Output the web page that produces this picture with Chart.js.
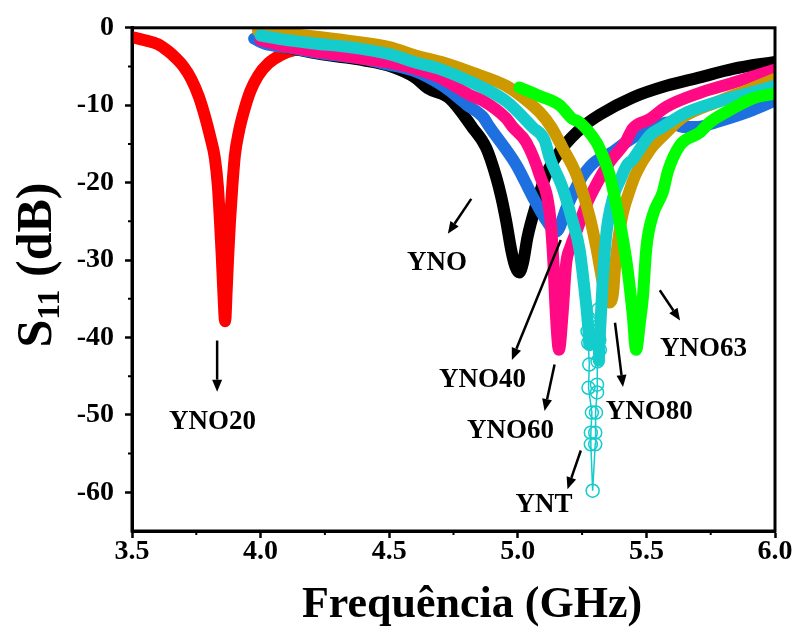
<!DOCTYPE html>
<html>
<head>
<meta charset="utf-8">
<script src="https://cdn.jsdelivr.net/npm/chart.js@4.4.0/dist/chart.umd.min.js"></script>
<style>
  body { margin: 0; background: #fff; }
  canvas { display: block; }
</style>
</head>
<body>
<canvas id="s11Chart" width="797" height="630"></canvas>
<script>
/*global Chart*/
var serif = "'Liberation Serif', 'Times New Roman', serif";

// S11 curves (frequency in GHz, S11 in dB)
var yno20Freq = [3.50, 3.55, 3.60, 3.64, 3.67, 3.70, 3.73, 3.76, 3.785, 3.805, 3.822, 3.834, 3.842, 3.849, 3.855, 3.862, 3.868, 3.874, 3.881, 3.89, 3.90, 3.915, 3.935, 3.96, 3.99, 4.03, 4.08, 4.13, 4.20];
var yno20S11 = [-1.2, -1.6, -2.1, -3.0, -3.9, -5.0, -6.6, -8.9, -11.6, -14.2, -16.8, -20.5, -25.0, -29.5, -34.0, -37.9, -34.0, -29.5, -25.0, -20.5, -16.5, -13.5, -10.8, -8.2, -6.2, -4.6, -3.5, -2.9, -2.6];

var ynoFreq = [4.00, 4.10, 4.20, 4.30, 4.40, 4.50, 4.60, 4.65, 4.734, 4.824, 4.877, 4.916, 4.936, 4.955, 4.975, 4.99, 5.005, 5.02, 5.038, 5.072, 5.111, 5.174, 5.252, 5.32, 5.447, 5.578, 5.708, 5.837, 6.00];
var ynoS11 = [-1.7, -2.5, -3.2, -3.7, -4.2, -4.9, -6.4, -7.8, -9.1, -12.9, -15.5, -19.3, -21.9, -25.0, -28.8, -30.8, -31.6, -30.4, -27.0, -22.8, -18.9, -15.5, -12.8, -11.2, -9.0, -7.5, -6.4, -5.3, -4.4];

var yno40Freq = [3.975, 4.02, 4.10, 4.215, 4.30, 4.40, 4.475, 4.60, 4.70, 4.734, 4.80, 4.864, 4.89, 4.994, 5.059, 5.111, 5.15, 5.19, 5.24, 5.29, 5.37, 5.42, 5.51, 5.59, 5.64, 5.70, 5.77, 5.90, 6.00];
var yno40S11 = [-1.4, -2.1, -2.5, -3.2, -3.6, -4.0, -4.6, -5.6, -7.3, -8.1, -9.9, -11.5, -12.8, -17.7, -21.9, -24.9, -26.3, -23.2, -19.8, -17.6, -16.0, -14.8, -13.0, -12.2, -12.8, -12.8, -12.2, -10.8, -9.4];

var yno60Freq = [4.00, 4.10, 4.20, 4.30, 4.40, 4.50, 4.58, 4.695, 4.734, 4.82, 4.864, 4.955, 4.98, 5.033, 5.085, 5.125, 5.138, 5.148, 5.16, 5.174, 5.188, 5.205, 5.228, 5.267, 5.306, 5.358, 5.42, 5.447, 5.513, 5.578, 5.708, 5.837, 6.00];
var yno60S11 = [-1.6, -2.4, -3.0, -3.5, -4.0, -4.5, -5.1, -6.4, -7.1, -8.8, -9.4, -11.7, -12.8, -14.8, -19.0, -24.2, -30.0, -37.0, -41.6, -37.0, -30.5, -28.3, -26.3, -22.8, -20.2, -17.3, -14.7, -13.0, -11.8, -10.2, -8.4, -7.1, -5.4];

var yno80Freq = [3.99, 4.085, 4.20, 4.345, 4.50, 4.605, 4.70, 4.824, 4.955, 5.02, 5.085, 5.13, 5.174, 5.228, 5.28, 5.306, 5.325, 5.34, 5.355, 5.37, 5.378, 5.39, 5.408, 5.435, 5.46, 5.513, 5.578, 5.64, 5.773, 5.903, 6.00];
var yno80S11 = [-0.4, -0.7, -1.1, -1.7, -2.5, -3.6, -4.4, -5.8, -7.5, -9.0, -10.9, -12.8, -15.5, -19.0, -24.5, -28.5, -32.0, -34.6, -35.5, -34.3, -31.0, -27.5, -24.0, -21.0, -18.8, -15.8, -13.5, -11.6, -9.6, -7.9, -6.6];

var yno63Freq = [5.007, 5.085, 5.163, 5.21, 5.24, 5.306, 5.318, 5.357, 5.383, 5.408, 5.428, 5.447, 5.46, 5.475, 5.486, 5.50, 5.525, 5.564, 5.584, 5.63, 5.708, 5.747, 5.837, 5.915, 6.00];
var yno63S11 = [-7.7, -8.8, -10.0, -11.7, -12.2, -14.8, -15.6, -19.0, -22.9, -27.2, -31.5, -37.1, -41.6, -38.0, -34.9, -28.4, -24.2, -21.2, -18.5, -15.2, -13.5, -12.2, -10.4, -9.1, -8.5];

// YNT: falling branch, sparse points at the resonance, rising branch
var yntFreq = [4.00, 4.085, 4.20, 4.345, 4.50, 4.605, 4.695, 4.824, 4.955, 5.059, 5.104, 5.124, 5.17, 5.213, 5.24, 5.26, 5.272, 5.278];
var yntS11 = [-1.0, -1.5, -2.0, -2.5, -3.4, -4.5, -5.3, -7.1, -9.5, -12.9, -14.5, -16.8, -20.3, -25.0, -28.6, -34.0, -38.0, -41.0];
var yntTipFreq = [5.278, 5.271, 5.274, 5.278, 5.275, 5.288, 5.284, 5.284, 5.291, 5.301, 5.301, 5.304, 5.308, 5.308, 5.310, 5.319, 5.317, 5.310, 5.313];
var yntTipS11 = [-37.9, -39.2, -40.7, -43.5, -46.5, -49.7, -52.3, -53.8, -59.8, -53.8, -52.3, -49.7, -47.1, -46.1, -43.1, -41.6, -40.3, -38.6, -36.4];
var yntRiseFreq = [5.315, 5.32, 5.33, 5.345, 5.37, 5.40, 5.423, 5.447, 5.486, 5.513, 5.564, 5.64, 5.773, 5.903, 6.00];
var yntRiseS11 = [-43.0, -39.0, -32.8, -26.4, -22.0, -19.5, -17.8, -17.0, -15.1, -13.9, -12.8, -11.2, -9.6, -8.4, -7.5];

var xTicks = [3.5, 4.0, 4.5, 5.0, 5.5, 6.0];
var yTicks = [0, -10, -20, -30, -40, -50, -60];

// sample labels with their arrows (text centre, arrow tail, arrow head)
var notes = [
    {text: 'YNO',   at: [4.686, -30.4], from: [4.819, -22.1], to: [4.728, -26.6]},
    {text: 'YNO20', at: [3.813, -50.9], from: [3.831, -40.4], to: [3.831, -47.0]},
    {text: 'YNO40', at: [4.863, -45.5], from: [5.167, -27.4], to: [4.977, -42.9]},
    {text: 'YNO60', at: [4.972, -52.1], from: [5.143, -43.5], to: [5.104, -49.5]},
    {text: 'YNO80', at: [5.511, -49.6], from: [5.378, -38.1], to: [5.409, -46.4]},
    {text: 'YNO63', at: [5.722, -41.5], from: [5.552, -33.9], to: [5.631, -37.8]},
    {text: 'YNT',   at: [5.102, -61.7], from: [5.245, -54.6], to: [5.193, -59.6]}
];

function pts(f, s) {
    return f.map(function (x, i) { return {x: x, y: s[i]}; });
}

function band(label, f, s, color) {
    return {
        label: label,
        data: pts(f, s),
        borderColor: color,
        borderWidth: 12,
        borderCapStyle: 'round',
        borderJoinStyle: 'round',
        cubicInterpolationMode: 'monotone',
        pointRadius: 0,
        fill: false,
        clip: 0
    };
}

var cyan = '#14cccc';

var datasets = [
    band('YNO63', yno63Freq, yno63S11, '#00ff00'),
    {
        label: 'YNT',
        data: pts(yntTipFreq, yntTipS11),
        borderColor: cyan,
        borderWidth: 1.5,
        pointRadius: 6.5,
        pointBorderWidth: 1.5,
        pointBorderColor: cyan,
        pointBackgroundColor: 'rgba(0,0,0,0)',
        tension: 0,
        fill: false,
        clip: 0
    },
    band('YNT', yntFreq, yntS11, cyan),
    band('YNT', yntRiseFreq, yntRiseS11, cyan),
    band('YNO80', yno80Freq, yno80S11, '#cc9a00'),
    band('YNO60', yno60Freq, yno60S11, '#ff0a84'),
    band('YNO40', yno40Freq, yno40S11, '#1e70e0'),
    band('YNO', ynoFreq, ynoS11, '#000000'),
    band('YNO20', yno20Freq, yno20S11, '#ff0000')
];

function isMajorX(v) { return xTicks.some(function (t) { return Math.abs(t - v) < 1e-6; }); }
function isMajorY(v) { return yTicks.indexOf(v) !== -1; }

var decor = {
    id: 'decor',
    afterDatasetsDraw: function (chart) {
        var c = chart.ctx, a = chart.chartArea, xs = chart.scales.x, ys = chart.scales.y;
        c.save();
        // frame
        c.strokeStyle = '#000';
        c.lineWidth = 3;
        c.strokeRect(a.left, a.top, a.right - a.left, a.bottom - a.top);

        // minor ticks
        c.lineWidth = 2;
        c.beginPath();
        xs.ticks.forEach(function (t) {
            if (isMajorX(t.value)) return;
            var px = xs.getPixelForValue(t.value);
            c.moveTo(px, a.bottom);
            c.lineTo(px, a.bottom + 4);
        });
        ys.ticks.forEach(function (t) {
            if (isMajorY(t.value) || t.value === ys.min) return;
            var py = ys.getPixelForValue(t.value);
            c.moveTo(a.left - 4, py);
            c.lineTo(a.left, py);
        });
        c.stroke();

        // labels with arrows
        c.fillStyle = '#000';
        c.font = 'bold 27px ' + serif;
        c.textAlign = 'center';
        c.textBaseline = 'middle';
        notes.forEach(function (n) {
            c.fillText(n.text, xs.getPixelForValue(n.at[0]), ys.getPixelForValue(n.at[1]));
            var x0 = xs.getPixelForValue(n.from[0]), y0 = ys.getPixelForValue(n.from[1]);
            var x1 = xs.getPixelForValue(n.to[0]), y1 = ys.getPixelForValue(n.to[1]);
            var ang = Math.atan2(y1 - y0, x1 - x0), head = 12, half = 5;
            var bx = x1 - head * Math.cos(ang), by = y1 - head * Math.sin(ang);
            c.lineWidth = 2.5;
            c.beginPath();
            c.moveTo(x0, y0);
            c.lineTo(bx, by);
            c.stroke();
            c.beginPath();
            c.moveTo(x1, y1);
            c.lineTo(bx + half * Math.sin(ang), by - half * Math.cos(ang));
            c.lineTo(bx - half * Math.sin(ang), by + half * Math.cos(ang));
            c.closePath();
            c.fill();
        });
        c.restore();
    },
    afterDraw: function (chart) {
        var c = chart.ctx;
        c.save();
        c.fillStyle = '#000';
        // x title
        c.font = 'bold 44px ' + serif;
        c.textAlign = 'center';
        c.textBaseline = 'middle';
        c.fillText('Frequência (GHz)', 472, 606);
        // y title with subscript
        c.translate(38, 265);
        c.rotate(-Math.PI / 2);
        var big = 'bold 50px ' + serif, small = 'bold 32px ' + serif;
        c.font = big;
        var wS = c.measureText('S').width, wR = c.measureText(' (dB)').width;
        c.font = small;
        var w11 = c.measureText('11').width;
        var x = -(wS + w11 + wR) / 2;
        c.textAlign = 'left';
        c.font = big;
        c.fillText('S', x, 0);
        c.font = small;
        c.fillText('11', x + wS, 13);
        c.font = big;
        c.fillText(' (dB)', x + wS + w11, 0);
        c.restore();
    }
};

var tickFont = {family: serif, size: 28, weight: 'bold'};

new Chart(document.getElementById('s11Chart').getContext('2d'), {
    type: 'line',
    data: {datasets: datasets},
    options: {
        responsive: false,
        animation: false,
        devicePixelRatio: 1,
        layout: {padding: {top: 21, right: 22, left: 0, bottom: 0}},
        plugins: {legend: {display: false}, tooltip: {enabled: false}},
        scales: {
            x: {
                type: 'linear',
                min: 3.5,
                max: 6.0,
                afterFit: function (s) { s.height = 99; },
                border: {display: true, color: '#000', width: 3},
                grid: {
                    drawOnChartArea: false,
                    tickLength: 7,
                    tickWidth: 2.5,
                    tickColor: function (ctx) { return isMajorX(ctx.tick.value) ? '#000' : 'rgba(0,0,0,0)'; }
                },
                ticks: {
                    stepSize: 0.25,
                    autoSkip: false,
                    maxRotation: 0,
                    padding: -3,
                    color: '#000',
                    font: tickFont,
                    callback: function (v) { return isMajorX(v) ? v.toFixed(1) : ''; }
                }
            },
            y: {
                type: 'linear',
                min: -65,
                max: 0,
                afterFit: function (s) { s.width = 132; },
                border: {display: true, color: '#000', width: 3},
                grid: {
                    drawOnChartArea: false,
                    tickLength: 7,
                    tickWidth: 2.5,
                    tickColor: function (ctx) { return isMajorY(ctx.tick.value) ? '#000' : 'rgba(0,0,0,0)'; }
                },
                ticks: {
                    stepSize: 5,
                    autoSkip: false,
                    padding: 11,
                    color: '#000',
                    font: tickFont,
                    callback: function (v) { return isMajorY(v) ? String(v) : ''; }
                }
            }
        }
    },
    plugins: [decor]
});
</script>
</body>
</html>
